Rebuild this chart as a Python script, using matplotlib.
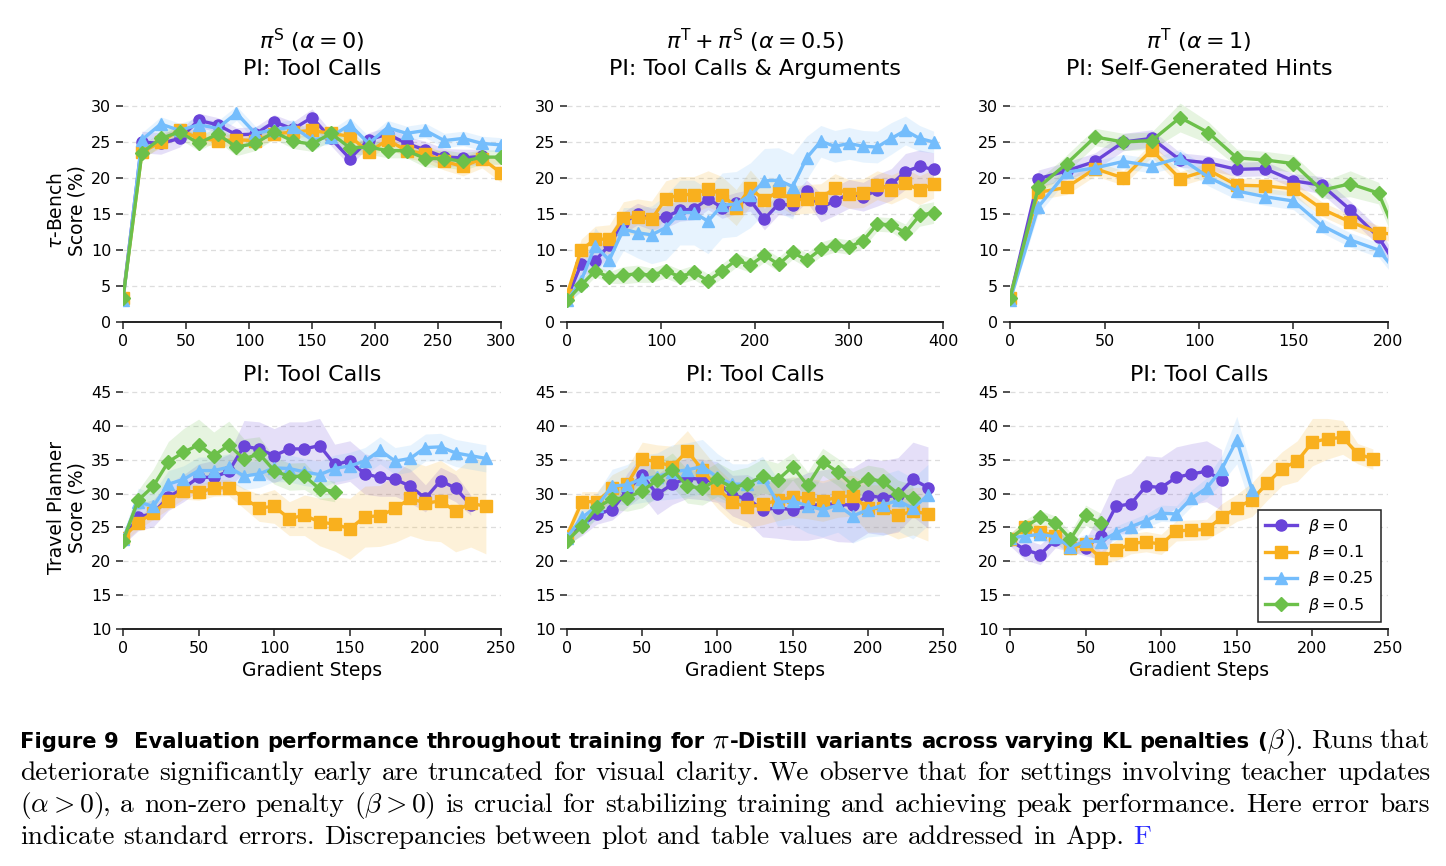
"""Figure 9: eval performance over training for pi-Distill variants across KL penalties."""

import matplotlib

matplotlib.use("Agg")
import matplotlib.pyplot as plt

# ---- data ----
BETA_LABELS = [r"$\beta = 0$", r"$\beta = 0.1$", r"$\beta = 0.25$", r"$\beta = 0.5$"]
COLORS = ["#6a44d9", "#f9b01e", "#74bdfc", "#6cc04a"]
MARKERS = ["o", "s", "^", "D"]

# top row: tau-Bench
p1_x = [0, 15, 30, 45, 60, 75, 90, 105, 120, 135, 150, 165, 180, 195, 210, 225, 240, 255, 270, 285, 300]
p1_b0 = [3.3, 25.0, 24.8, 25.5, 28.0, 27.4, 26.0, 26.1, 27.8, 26.8, 28.4, 25.5, 22.7, 25.3, 26.1, 24.8, 23.9, 22.9, 22.8, 23.0]
p1_b1 = [3.3, 23.6, 25.0, 26.7, 25.5, 25.2, 25.3, 25.2, 26.1, 26.4, 26.6, 26.2, 25.8, 23.6, 25.3, 23.8, 23.4, 22.3, 21.6, 22.7, 20.7]
p1_b25 = [3.0, 25.3, 27.5, 26.6, 27.4, 26.9, 29.0, 26.2, 26.7, 27.1, 25.3, 25.7, 27.4, 24.8, 27.0, 26.2, 26.6, 25.2, 25.5, 24.8, 24.6]
p1_b5 = [3.3, 23.5, 25.5, 26.4, 24.8, 26.1, 24.3, 24.8, 26.4, 25.1, 24.7, 26.2, 24.2, 24.3, 23.8, 23.8, 22.7, 22.7, 22.3, 22.9, 22.9]
p1_b0_se = [0.4, 1.5, 1.5, 1.2, 1.0, 1.0, 1.0, 1.0, 1.0, 1.0, 1.2, 1.0, 1.0, 1.0, 1.0, 1.0, 1.2, 1.2, 1.2, 1.0]
p1_b1_se = [0.4, 0.8, 0.8, 0.8, 0.8, 0.8, 0.8, 0.8, 0.8, 0.8, 0.8, 0.8, 0.8, 0.8, 1.0, 1.0, 1.2, 1.2, 1.3, 1.3, 1.3]
p1_b25_se = [0.4, 1.0, 1.0, 1.0, 1.0, 1.0, 1.0, 1.0, 1.0, 1.0, 1.0, 1.0, 1.0, 1.0, 1.0, 1.0, 1.0, 1.0, 1.0, 1.0, 1.0]
p1_b5_se = [0.4, 1.0, 1.0, 1.0, 1.0, 1.0, 1.2, 1.0, 1.0, 1.0, 1.0, 1.0, 1.0, 1.0, 1.0, 1.0, 1.2, 1.2, 1.2, 1.0, 1.0]

p2_x = [0, 15, 30, 45, 60, 75, 90, 105, 120, 135, 150, 165, 180, 195, 210, 225, 240, 255, 270, 285, 300,
        315, 330, 345, 360, 375, 390]
p2_b0 = [3.3, 8.0, 8.5, 10.7, 13.8, 15.0, 14.3, 14.6, 15.5, 15.7, 17.1, 15.9, 16.5, 16.9, 14.3, 16.4, 16.2,
         18.2, 15.9, 16.8, 17.8, 17.4, 18.3, 19.1, 20.9, 21.6, 21.2]
p2_b1 = [3.8, 10.0, 11.5, 11.5, 14.5, 14.6, 14.3, 17.1, 17.7, 17.7, 18.5, 17.7, 15.9, 18.6, 16.9, 18.2, 16.9,
         17.1, 17.2, 18.6, 17.8, 17.9, 19.0, 18.4, 19.3, 18.3, 19.2]
p2_b25 = [3.0, 5.7, 10.6, 8.6, 12.9, 12.4, 12.1, 13.1, 15.2, 15.2, 14.0, 16.2, 16.4, 17.6, 19.6, 19.7, 18.8,
          22.8, 25.1, 24.4, 24.8, 24.4, 24.3, 25.5, 26.6, 25.5, 25.0]
p2_b5 = [3.0, 5.1, 7.1, 6.2, 6.5, 6.7, 6.5, 7.1, 6.3, 6.9, 5.7, 7.1, 8.6, 7.9, 9.3, 8.0, 9.7, 8.6, 10.1, 10.7,
         10.4, 11.3, 13.6, 13.5, 12.4, 14.8, 15.2]
p2_b0_se = [0.4, 1.5, 1.5, 1.5, 1.5, 1.5, 1.5, 1.5, 1.5, 1.5, 1.5, 1.5, 1.5, 1.5, 1.5, 1.5, 1.5, 1.5, 2.0, 2.0,
            2.0, 2.0, 2.2, 2.2, 2.5, 2.3, 2.3]
p2_b1_se = [0.4, 1.5, 1.8, 2.0, 2.2, 2.5, 2.5, 2.5, 2.5, 2.5, 2.5, 2.5, 2.5, 2.5, 2.0, 2.0, 2.0, 2.0, 2.0, 2.0,
            2.0, 2.0, 2.0, 2.0, 2.0, 2.0, 2.0]
p2_b25_se = [0.4, 1.5, 2.5, 2.0, 3.0, 3.5, 4.0, 4.5, 4.5, 4.5, 4.5, 4.5, 4.5, 4.5, 4.5, 4.5, 4.5, 3.0, 2.2, 2.2,
             2.2, 2.2, 2.2, 2.2, 2.0, 1.8, 1.5]
p2_b5_se = [0.4, 0.8, 0.8, 0.8, 1.2, 1.2, 1.0, 1.0, 1.0, 1.0, 1.0, 1.0, 1.0, 1.0, 1.0, 1.0, 1.0, 1.0, 1.0, 1.0,
            1.0, 1.0, 1.0, 1.0, 1.2, 1.5, 1.5]

p3_x = [0, 15, 30, 45, 60, 75, 90, 105, 120, 135, 150, 165, 180, 195, 210]
p3_b0 = [3.3, 19.9, 21.0, 22.3, 25.0, 25.5, 22.5, 22.1, 21.2, 21.3, 19.6, 19.0, 15.6, 11.8, 5.5]
p3_b1 = [3.3, 18.0, 18.7, 21.3, 20.0, 23.9, 19.9, 21.1, 19.0, 18.9, 18.5, 15.7, 13.9, 12.4, 12.0]
p3_b25 = [3.0, 16.0, 20.8, 21.4, 22.3, 21.7, 22.8, 20.1, 18.2, 17.4, 16.8, 13.4, 11.4, 10.0, 5.2]
p3_b5 = [3.3, 18.7, 22.0, 25.7, 25.0, 25.2, 28.4, 26.3, 22.8, 22.5, 22.0, 18.3, 19.2, 17.9, 8.6]
p3_b0_se = [0.4, 1.2, 1.2, 1.2, 1.2, 1.2, 1.0, 1.0, 1.0, 1.0, 1.0, 1.2, 1.2, 1.2, 1.2]
p3_b1_se = [0.4, 1.0, 1.0, 1.0, 1.0, 1.0, 1.0, 1.0, 1.0, 1.0, 1.0, 1.0, 1.0, 1.0, 1.0]
p3_b25_se = [0.4, 1.0, 1.0, 1.0, 1.0, 1.0, 1.2, 1.2, 1.2, 1.2, 1.2, 1.0, 1.0, 1.0, 1.0]
p3_b5_se = [0.4, 1.0, 1.2, 1.2, 1.2, 1.2, 2.0, 1.5, 1.2, 1.2, 1.2, 1.2, 1.8, 1.5, 1.5]

# bottom row: Travel Planner
tp_x = [0, 10, 20, 30, 40, 50, 60, 70, 80, 90, 100, 110, 120, 130, 140, 150, 160, 170, 180, 190, 200,
        210, 220, 230, 240]

p4_b0 = [23.3, 26.5, 27.1, 29.5, 30.8, 32.4, 32.4, 33.3, 37.0, 36.6, 35.6, 36.6, 36.6, 37.1, 34.3, 34.8,
         32.9, 32.4, 32.1, 31.1, 29.3, 31.9, 30.8, 28.3]
p4_b1 = [23.5, 25.7, 27.2, 28.9, 30.4, 30.2, 30.8, 30.9, 29.3, 27.9, 28.1, 26.3, 26.8, 25.8, 25.5, 24.8,
         26.6, 26.7, 27.8, 29.3, 28.6, 28.9, 27.4, 28.6, 28.1]
p4_b25 = [23.3, 28.8, 28.1, 31.4, 32.1, 33.4, 33.4, 33.9, 32.6, 32.9, 33.8, 33.7, 33.2, 32.8, 33.7, 34.1,
          34.8, 36.4, 34.8, 35.2, 36.8, 36.9, 36.0, 35.6, 35.2]
p4_b5 = [23.0, 29.0, 31.1, 34.7, 36.1, 37.2, 35.6, 37.2, 35.1, 35.9, 33.4, 32.5, 32.6, 30.7, 30.3]
p4_b0_se = [0.8, 2.0, 2.0, 2.0, 2.0, 2.0, 2.5, 2.5, 3.8, 4.0, 4.0, 4.0, 4.0, 4.0, 3.0, 3.0, 3.0, 2.8, 2.5,
            2.5, 2.0, 2.0, 2.0, 1.5]
p4_b1_se = [0.8, 1.0, 1.0, 1.2, 1.2, 1.2, 1.2, 1.2, 1.5, 2.0, 2.5, 2.5, 3.0, 3.5, 4.0, 4.5, 4.5, 4.5, 5.0,
            5.5, 5.5, 6.0, 6.0, 6.5, 7.0]
p4_b25_se = [0.8, 2.0, 2.0, 2.0, 2.0, 2.0, 2.0, 2.0, 2.0, 2.0, 2.0, 2.0, 2.0, 2.0, 2.0, 2.0, 2.0, 2.0, 2.0,
             2.0, 2.0, 2.0, 2.0, 2.0, 2.0]
p4_b5_se = [0.8, 1.5, 2.5, 3.0, 3.5, 3.8, 3.5, 3.5, 3.0, 2.5, 2.0, 2.0, 2.0, 1.5, 1.5]

p5_b0 = [23.3, 25.3, 27.0, 27.6, 30.5, 32.7, 29.9, 31.4, 32.3, 32.1, 31.7, 29.7, 29.3, 27.6, 27.9, 27.6,
         28.1, 28.5, 28.4, 28.3, 29.7, 29.4, 29.8, 32.1, 30.9]
p5_b1 = [23.8, 28.8, 28.8, 30.8, 31.4, 35.1, 34.7, 34.0, 36.3, 33.5, 30.8, 28.7, 28.0, 28.4, 29.0, 29.5,
         29.3, 28.9, 29.5, 29.7, 27.8, 27.8, 26.8, 27.4, 27.0]
p5_b25 = [23.5, 26.5, 28.1, 31.1, 31.3, 32.2, 32.5, 33.2, 33.5, 34.0, 32.4, 31.4, 31.4, 32.5, 28.7, 28.9,
          28.2, 27.6, 28.3, 26.7, 27.6, 28.3, 29.0, 27.8, 29.8]
p5_b5 = [23.0, 25.2, 28.0, 29.2, 29.4, 30.4, 32.0, 33.5, 31.1, 30.8, 32.1, 30.9, 31.4, 32.6, 32.0, 34.0,
         31.2, 34.7, 33.2, 31.2, 32.2, 31.8, 30.0, 29.3]
p5_b0_se = [0.8, 1.5, 1.5, 1.5, 2.5, 3.0, 3.0, 3.0, 3.0, 3.0, 3.0, 3.0, 3.5, 4.0, 4.5, 4.5, 5.0, 5.0, 5.5,
            5.5, 5.5, 5.5, 5.5, 5.5, 6.0]
p5_b1_se = [0.8, 1.5, 1.5, 2.0, 2.5, 2.5, 2.5, 3.0, 3.0, 3.0, 3.0, 3.0, 3.0, 3.0, 3.0, 3.0, 3.0, 3.0, 3.0,
            3.0, 3.5, 3.5, 3.5, 3.5, 4.0]
p5_b25_se = [0.8, 1.5, 2.0, 2.5, 3.0, 3.5, 3.5, 4.0, 4.0, 4.0, 3.5, 3.0, 3.0, 3.0, 3.5, 3.5, 4.0, 4.0, 4.0,
             4.0, 4.0, 4.5, 4.5, 4.5, 4.5]
p5_b5_se = [0.8, 1.2, 1.5, 1.5, 2.0, 2.5, 2.5, 2.5, 2.5, 2.5, 2.5, 2.5, 2.5, 2.5, 2.5, 2.0, 2.0, 2.0, 2.0,
            2.0, 2.0, 2.0, 2.0, 2.0]

p6_b0 = [23.1, 21.7, 21.0, 23.2, 22.6, 22.0, 23.8, 28.1, 28.5, 31.1, 30.9, 32.4, 32.9, 33.3, 32.0]
p6_b1 = [23.3, 25.0, 24.3, 23.8, 21.9, 22.5, 20.5, 21.6, 22.6, 22.9, 22.5, 24.5, 24.6, 24.7, 26.5, 27.9,
         29.1, 31.5, 33.7, 34.8, 37.6, 38.1, 38.3, 35.9, 35.1]
p6_b25 = [23.5, 23.7, 24.0, 23.6, 22.1, 23.0, 22.9, 24.2, 25.1, 26.0, 27.1, 27.0, 29.3, 30.8, 33.6, 37.9, 30.6]
p6_b5 = [23.3, 25.1, 26.5, 25.7, 23.3, 26.8, 25.6]
p6_b0_se = [0.8, 1.5, 1.5, 1.2, 1.2, 1.2, 3.5, 4.0, 4.5, 4.5, 4.5, 4.5, 4.5, 4.5, 4.5]
p6_b1_se = [0.8, 1.0, 1.0, 1.0, 1.0, 1.0, 1.0, 1.5, 1.5, 1.5, 1.5, 1.5, 1.5, 1.5, 2.0, 2.0, 2.5, 2.5, 2.5,
            3.0, 3.5, 3.0, 2.5, 1.5, 1.5]
p6_b25_se = [0.8, 1.0, 1.0, 1.0, 1.0, 1.0, 1.0, 1.0, 1.0, 1.0, 1.2, 1.2, 1.2, 1.5, 2.0, 3.5, 3.0]
p6_b5_se = [0.8, 1.0, 1.0, 1.0, 1.0, 1.5, 1.5]

TITLES = [
    r"$\pi^{\mathrm{S}}$ ($\alpha = 0$)" + "\nPI: Tool Calls",
    r"$\pi^{\mathrm{T}} + \pi^{\mathrm{S}}$ ($\alpha = 0.5$)" + "\nPI: Tool Calls & Arguments",
    r"$\pi^{\mathrm{T}}$ ($\alpha = 1$)" + "\nPI: Self-Generated Hints",
    "PI: Tool Calls", "PI: Tool Calls", "PI: Tool Calls",
]

W, H = 1446, 866


def px_axes(fig, left, right, bottom, top):
    return fig.add_axes([left / W, 1 - bottom / H, (right - left) / W, (bottom - top) / H])


def draw_panel(ax, x, series, ses, xlim, xticks, ylim, yticks):
    for y, se, color, marker, label in zip(series, ses, COLORS, MARKERS, BETA_LABELS):
        xs = x[:len(y)]
        lo = [a - b for a, b in zip(y, se)]
        hi = [a + b for a, b in zip(y, se)]
        ax.fill_between(xs, lo, hi, color=color, alpha=0.17, lw=0)
        ax.plot(xs, y, color=color, marker=marker, ms=8 if marker != "D" else 7,
                lw=2.4, label=label)
    ax.set_xlim(*xlim)
    ax.set_ylim(*ylim)
    ax.set_xticks(xticks)
    ax.set_yticks(yticks)
    ax.grid(axis="y", ls=(0, (4, 3)), color="#dddddd", lw=0.9)
    ax.set_axisbelow(True)
    for side in ("top", "right", "left"):
        ax.spines[side].set_visible(False)
    ax.spines["bottom"].set_linewidth(1.4)
    ax.spines["bottom"].set_color("#222222")
    ax.tick_params(labelsize=11.5, length=5, width=1.1, color="#222222")


fig = plt.figure(figsize=(W / 100, H / 100), dpi=100)

cols = [(123, 501), (567, 943), (1010, 1388)]
top_axes = [px_axes(fig, l, r, 322, 322 - 31 * 7.2) for l, r in cols]
bot_axes = [px_axes(fig, l, r, 629, 629 - 36 * 6.77) for l, r in cols]

draw_panel(top_axes[0], p1_x, [p1_b0, p1_b1, p1_b25, p1_b5],
           [p1_b0_se, p1_b1_se, p1_b25_se, p1_b5_se],
           (0, 300), [0, 50, 100, 150, 200, 250, 300], (0, 31), [0, 5, 10, 15, 20, 25, 30])
draw_panel(top_axes[1], p2_x, [p2_b0, p2_b1, p2_b25, p2_b5],
           [p2_b0_se, p2_b1_se, p2_b25_se, p2_b5_se],
           (0, 400), [0, 100, 200, 300, 400], (0, 31), [0, 5, 10, 15, 20, 25, 30])
draw_panel(top_axes[2], p3_x, [p3_b0, p3_b1, p3_b25, p3_b5],
           [p3_b0_se, p3_b1_se, p3_b25_se, p3_b5_se],
           (0, 200), [0, 50, 100, 150, 200], (0, 31), [0, 5, 10, 15, 20, 25, 30])

bottom_data = [
    ([p4_b0, p4_b1, p4_b25, p4_b5], [p4_b0_se, p4_b1_se, p4_b25_se, p4_b5_se]),
    ([p5_b0, p5_b1, p5_b25, p5_b5], [p5_b0_se, p5_b1_se, p5_b25_se, p5_b5_se]),
    ([p6_b0, p6_b1, p6_b25, p6_b5], [p6_b0_se, p6_b1_se, p6_b25_se, p6_b5_se]),
]
for ax, (series, ses) in zip(bot_axes, bottom_data):
    draw_panel(ax, tp_x, series, ses, (0, 250), [0, 50, 100, 150, 200, 250],
               (10, 46), [10, 15, 20, 25, 30, 35, 40, 45])
    ax.set_xlabel("Gradient Steps", fontsize=13.5, labelpad=4)

for ax, title in zip(top_axes + bot_axes, TITLES):
    ax.set_title(title, fontsize=16, pad=17 if ax in top_axes else 2, linespacing=1.28)

top_axes[0].set_ylabel("$\\tau$-Bench\nScore (%)", fontsize=13.5, labelpad=3, linespacing=1.1)
bot_axes[0].set_ylabel("Travel Planner\nScore (%)", fontsize=13.5, labelpad=3, linespacing=1.1)

leg = bot_axes[2].legend(loc="lower right", fontsize=11.5, fancybox=False, framealpha=1,
                         edgecolor="#222222", borderaxespad=0.45, handlelength=2.0,
                         handletextpad=0.7, labelspacing=0.45, borderpad=0.45)
leg.get_frame().set_linewidth(1.1)

# ---- caption, justified like the paper ----
BOLD = dict(family="DejaVu Sans", fontweight="bold", fontsize=16.5)
SERIF = dict(family="cmr10", fontsize=19.8)
MATH = dict(fontsize=19.8, math_fontfamily="cm")


def words(text, style, first_gap=True):
    out = []
    for i, w in enumerate(text.split(" ")):
        out.append((w, style, first_gap if i == 0 else True))
    return out


caption = [
    words("Figure 9", BOLD, False) + [("", BOLD, True)]
    + words("Evaluation performance throughout training for", BOLD)
    + [(r"$\pi$", MATH, True)] + words("-Distill", BOLD, False)
    + words("variants across varying KL penalties (", BOLD)
    + [(r"$\beta$", MATH, False), (").", SERIF, False)]
    + words("Runs that", SERIF),
    words("deteriorate significantly early are truncated for visual clarity. We observe that "
          "for settings involving teacher updates", SERIF, False),
    [(r"$(\alpha > 0)$", MATH, False), (",", SERIF, False)]
    + words("a non-zero penalty", SERIF) + [(r"$(\beta > 0)$", MATH, True)]
    + words("is crucial for stabilizing training and achieving peak performance. Here error bars", SERIF),
    words("indicate standard errors. Discrepancies between plot and table values are addressed in App.",
          SERIF, False) + [("F", dict(SERIF, color="#2a2aff"), True)],
]

renderer = fig.canvas.get_renderer()


def text_width(txt, style):
    if not txt:
        return 0.0
    t = fig.text(0, 0, txt, **style)
    w = t.get_window_extent(renderer).width
    t.remove()
    return w


space = text_width("a a", SERIF) - text_width("aa", SERIF)
x_left, x_right = 20, 1430
baselines = [748, 780, 812, 844]
for n, (line, base) in enumerate(zip(caption, baselines)):
    # shrink only the bold run if the line would overflow
    scale = 1.0
    while True:
        styled = [(t, dict(s, fontsize=s["fontsize"] * (scale if s is BOLD else 1.0)), g)
                  for t, s, g in line]
        widths = [text_width(t, s) for t, s, g in styled]
        gaps = sum(1 for t, s, g in styled if g)
        natural = sum(widths) + gaps * space * 0.8
        if natural <= x_right - x_left or scale < 0.7:
            break
        scale *= 0.98
    gap_w = space
    if n < len(caption) - 1 and gaps:
        gap_w = (x_right - x_left - sum(widths)) / gaps
    x = x_left
    for (t, s, g), w in zip(styled, widths):
        if g:
            x += gap_w
        fig.text(x / W, 1 - base / H, t, va="baseline", ha="left", **s)
        x += w

fig.savefig("out.png", dpi=100)
